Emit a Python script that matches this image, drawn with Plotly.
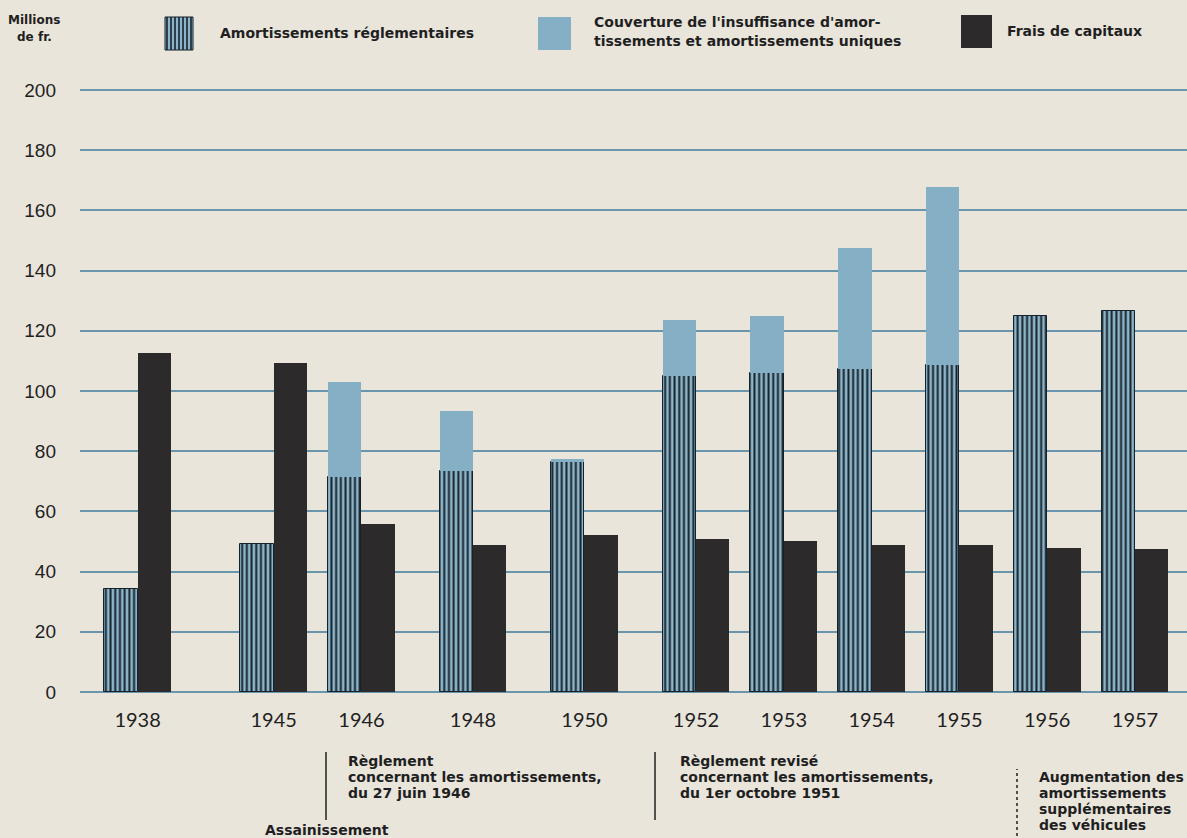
import plotly.graph_objects as go

# ---------------- data ----------------
years = [1938, 1945, 1946, 1948, 1950, 1952, 1953, 1954, 1955, 1956, 1957]
amort_regl = [34.2, 49.2, 71.4, 73.4, 76.4, 105.0, 106.0, 107.3, 108.6, 124.9, 126.6]
couverture = [0, 0, 31.6, 20.0, 1.0, 18.6, 18.9, 40.2, 59.2, 0, 0]
frais = [112.6, 109.3, 55.8, 48.8, 52.2, 50.8, 50.2, 48.8, 48.8, 47.8, 47.5]
y_ticks = list(range(0, 201, 20))

unit_label = ["Millions", "de fr."]
legend_labels = [
    ["Amortissements réglementaires"],
    ["Couverture de l'insuffisance d'amor-", "tissements et amortissements uniques"],
    ["Frais de capitaux"],
]
note_1946 = ["Règlement", "concernant les amortissements,", "du 27 juin 1946"]
note_assain = ["Assainissement"]
note_1951 = ["Règlement revisé", "concernant les amortissements,", "du 1er octobre 1951"]
note_vehic = ["Augmentation des", "amortissements", "supplémentaires", "des véhicules"]

# ---------------- styling ----------------
BG = "#e9e5db"
GRID = "#6a96ad"
LIGHT = "#85afc5"
HATCH_BG = "#8db4c8"
HATCH_FG = "#15222b"
DARK = "#2c2a2a"
TXT = "#1f1f1f"
FONT = "DejaVu Sans"
YEAR_FONT = "Lato"
TICK_FONT = "Liberation Sans"

W, H = 1187, 838
ML, MR, MT, MB = 80, 0, 75, 143
PW, PH = W - ML - MR, H - MT - MB


def px(x):
    return (x - ML) / PW


def py(y):
    return (H - MB - y) / PH


# category positions: consecutive years one slot apart, skipped years wider
pos = [0.0]
for prev, cur in zip(years[:-1], years[1:]):
    gap = cur - prev
    step = 1.0 if gap == 1 else (1.27 if gap == 2 else 1.55)
    pos.append(pos[-1] + step)

UNIT_PX = 87.8
x_left = pos[-1] - (1135 - ML) / UNIT_PX
x_right = x_left + PW / UNIT_PX

BW = 0.38

fig = go.Figure()
fig.add_trace(go.Bar(
    x=pos, y=amort_regl, width=BW, offset=-BW,
    marker=dict(color=HATCH_BG,
                pattern=dict(shape="|", fgcolor=HATCH_FG, bgcolor=HATCH_BG,
                             size=4.7, solidity=0.42, fillmode="replace"),
                line=dict(color=HATCH_FG, width=1)),
    name=legend_labels[0][0], showlegend=False,
))
fig.add_trace(go.Bar(
    x=pos, y=couverture, base=amort_regl, width=BW, offset=-BW,
    marker=dict(color=LIGHT, line=dict(width=0)),
    name=" ".join(legend_labels[1]), showlegend=False,
))
fig.add_trace(go.Bar(
    x=pos, y=frais, width=BW, offset=0,
    marker=dict(color=DARK, line=dict(width=0)),
    name=legend_labels[2][0], showlegend=False,
))

shapes = []
annotations = []


def add_lines(lines, x, y_top, size, spacing, anchor="left", weight="bold"):
    for i, t in enumerate(lines):
        annotations.append(dict(
            text=t, x=px(x), y=py(y_top + i * spacing), xref="paper", yref="paper",
            xanchor=anchor, yanchor="middle", showarrow=False,
            font=dict(family=FONT, size=size, color=TXT, weight=weight),
        ))


# unit label
add_lines(unit_label, 34, 20, 12, 17, anchor="center")

# legend swatches
sw_y0, sw_y1 = 17, 50
shapes.append(dict(type="rect", xref="paper", yref="paper",
                   x0=px(165), x1=px(193), y0=py(sw_y1), y1=py(sw_y0),
                   fillcolor=HATCH_BG, line=dict(color=HATCH_FG, width=1)))
for k in range(7):
    xl = 167 + 4 * k
    shapes.append(dict(type="line", xref="paper", yref="paper",
                       x0=px(xl), x1=px(xl), y0=py(sw_y1), y1=py(sw_y0),
                       line=dict(color=HATCH_FG, width=1.6)))
add_lines(legend_labels[0], 218, 33, 14, 19)
shapes.append(dict(type="rect", xref="paper", yref="paper",
                   x0=px(538), x1=px(571), y0=py(sw_y1), y1=py(sw_y0),
                   fillcolor=LIGHT, line=dict(width=0)))
add_lines(legend_labels[1], 592, 22, 14, 19)
shapes.append(dict(type="rect", xref="paper", yref="paper",
                   x0=px(961), x1=px(992), y0=py(48), y1=py(15),
                   fillcolor=DARK, line=dict(width=0)))
add_lines(legend_labels[2], 1005, 31, 14, 19)

# bottom notes
shapes.append(dict(type="line", xref="paper", yref="paper",
                   x0=px(326), x1=px(326), y0=py(820), y1=py(752),
                   line=dict(color=TXT, width=1.5)))
add_lines(note_1946, 346, 761, 14, 16)
add_lines(note_assain, 263, 830, 14, 16)
shapes.append(dict(type="line", xref="paper", yref="paper",
                   x0=px(655), x1=px(655), y0=py(820), y1=py(752),
                   line=dict(color=TXT, width=1.5)))
add_lines(note_1951, 678, 761, 14, 16)
shapes.append(dict(type="line", xref="paper", yref="paper",
                   x0=px(1017), x1=px(1017), y0=py(836), y1=py(769),
                   line=dict(color=TXT, width=1.5, dash="dot")))
add_lines(note_vehic, 1037, 777, 14, 16)

fig.update_layout(
    width=W, height=H,
    margin=dict(l=ML, r=MR, t=MT, b=MB, pad=0),
    paper_bgcolor=BG, plot_bgcolor=BG,
    barmode="overlay", bargap=0,
    showlegend=False,
    shapes=shapes, annotations=annotations,
    font=dict(family=FONT, color=TXT),
    xaxis=dict(range=[x_left, x_right], tickvals=pos, ticktext=[str(y) for y in years],
               showgrid=False, zeroline=False, showline=False, ticks="",
               tickfont=dict(family=YEAR_FONT, size=20, color=TXT), ticklabelstandoff=11,
               fixedrange=True),
    yaxis=dict(range=[-1, 205], tickvals=y_ticks, showgrid=True, gridcolor=GRID,
               gridwidth=1.5, zeroline=False, showline=False, ticks="",
               tickfont=dict(family=TICK_FONT, size=19, color=TXT), ticklabelstandoff=23,
               fixedrange=True),
)

fig.write_html("out.html", config={"displayModeBar": False},
               post_script="document.body.style.margin='0';")
